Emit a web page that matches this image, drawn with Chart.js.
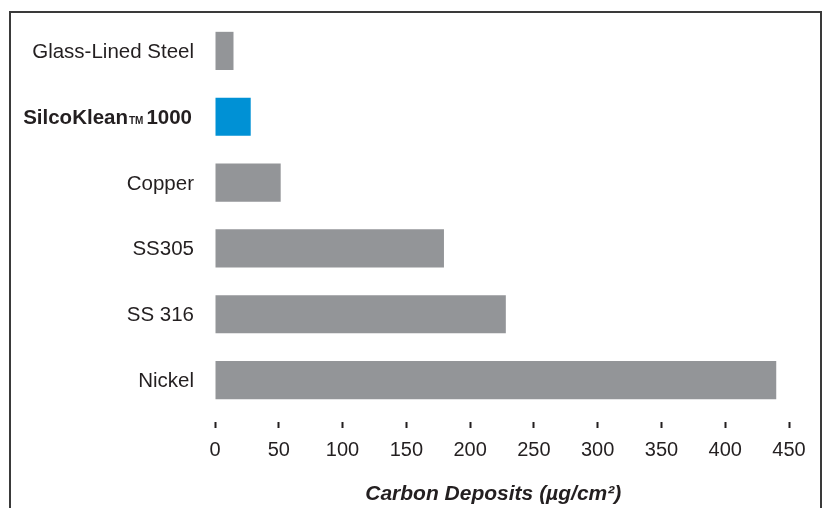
<!DOCTYPE html>
<html>
<head>
<meta charset="utf-8">
<script src="https://cdn.jsdelivr.net/npm/chart.js@4/dist/chart.umd.min.js"></script>
<style>
  body { margin: 0; background: #fff; }
  #wrap { position: relative; width: 823px; height: 508px; overflow: hidden; }
  #frame {
    position: absolute; left: 9px; top: 11px; width: 813px; height: 520px;
    box-sizing: border-box; border: 2px solid #3a3a3a; border-bottom: none;
    pointer-events: none;
  }
</style>
</head>
<body>
<div id="wrap">
  <canvas id="barChart"></canvas>
  <div id="frame"></div>
</div>
<script>
// materials, top to bottom
var materials = ["Glass-Lined Steel", "SilcoKlean\u21221000", "Copper", "SS305", "SS 316", "Nickel"];
// carbon deposits, ug/cm2
var deposits = [14.5, 28, 51.5, 179.5, 228, 440];
var barColors = ["#939598", "#0091d5", "#939598", "#939598", "#939598", "#939598"];
var xTicks = [0, 50, 100, 150, 200, 250, 300, 350, 400, 450];

var textColor = "#231f20";
var fontFamily = "'Liberation Sans', Arial, Helvetica, sans-serif";

// y labels drawn by hand so the SilcoKlean one can be bold with a small TM
var yLabels = {
  id: 'yLabels',
  afterDraw: function (chart) {
    var ctx = chart.ctx;
    var y = chart.scales.y;
    var right = 194;
    ctx.save();
    ctx.fillStyle = textColor;
    ctx.textBaseline = 'alphabetic';
    materials.forEach(function (name, i) {
      var py = y.getPixelForValue(i) + 7;
      if (name.indexOf('\u2122') >= 0) {
        var parts = name.split('\u2122');
        var big = "bold 20.5px " + fontFamily;
        var small = "bold 10px " + fontFamily;
        ctx.font = big;
        var w1 = ctx.measureText(parts[0]).width;
        var w3 = ctx.measureText(parts[1]).width;
        ctx.font = small;
        var w2 = ctx.measureText("TM").width;
        var x = right - 2 - (w1 + 1 + w2 + 3 + w3);
        ctx.textAlign = 'left';
        ctx.font = big;
        ctx.fillText(parts[0], x, py);
        ctx.font = small;
        ctx.fillText("TM", x + w1 + 1, py);
        ctx.font = big;
        ctx.fillText(parts[1], x + w1 + 1 + w2 + 3, py);
      } else {
        ctx.font = "20.5px " + fontFamily;
        ctx.textAlign = 'right';
        ctx.fillText(name, right, py);
      }
    });
    ctx.restore();
  }
};

var ctxB = document.getElementById("barChart").getContext('2d');
var myBarChart = new Chart(ctxB, {
  type: 'bar',
  data: {
    labels: materials,
    datasets: [{
      data: deposits,
      backgroundColor: barColors,
      categoryPercentage: 1,
      barPercentage: 0.58
    }]
  },
  options: {
    indexAxis: 'y',
    responsive: true,
    maintainAspectRatio: false,
    animation: false,
    layout: { padding: { left: 0, right: 34, top: 18, bottom: 0 } },
    plugins: {
      legend: { display: false },
      tooltip: { enabled: false }
    },
    scales: {
      x: {
        min: 0,
        max: 450,
        afterFit: function (scale) { scale.height = 95; },
        afterBuildTicks: function (scale) {
          scale.ticks = xTicks.map(function (v) { return { value: v }; });
        },
        border: { display: false },
        grid: {
          drawOnChartArea: false,
          drawTicks: true,
          tickLength: 15,
          tickWidth: 2,
          tickColor: textColor,
          tickBorderDash: [0, 9, 6, 40]
        },
        ticks: {
          color: textColor,
          padding: 10,
          maxRotation: 0,
          font: { family: fontFamily, size: 20 }
        },
        title: {
          display: true,
          text: "Carbon Deposits (\u00b5g/cm\u00b2)   ",
          color: textColor,
          padding: { top: 0, bottom: 1 },
          font: { family: fontFamily, size: 21, weight: 'bold', style: 'italic' }
        }
      },
      y: {
        afterFit: function (scale) { scale.width = 215; },
        border: { display: false },
        grid: { display: false },
        ticks: { display: false }
      }
    }
  },
  plugins: [yLabels]
});
</script>
</body>
</html>
